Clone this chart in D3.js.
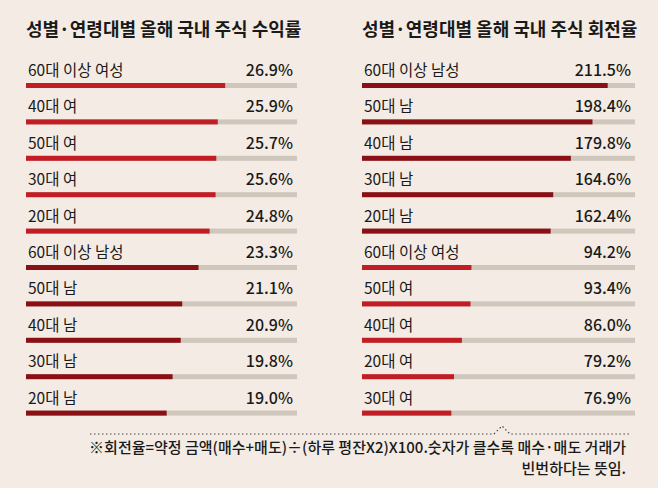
<!DOCTYPE html><html><head><meta charset="utf-8"><script src="https://cdn.jsdelivr.net/npm/d3@7"></script>
<style>body{margin:0;background:#f4ece4;}text{font-family:"Noto Sans CJK KR",sans-serif;}</style></head><body><svg id="c" width="658" height="488"></svg><script>
const leftTitle="성별·연령대별 올해 국내 주식 수익률";
const leftCats=["60대 이상 여성","40대 여","50대 여","30대 여","20대 여","60대 이상 남성","50대 남","40대 남","30대 남","20대 남"];
const leftVals=[26.9,25.9,25.7,25.6,24.8,23.3,21.1,20.9,19.8,19.0];
const leftSex=["f","f","f","f","f","m","m","m","m","m"];
const rightTitle="성별·연령대별 올해 국내 주식 회전율";
const rightCats=["60대 이상 남성","50대 남","40대 남","30대 남","20대 남","60대 이상 여성","50대 여","40대 여","20대 여","30대 여"];
const rightVals=[211.5,198.4,179.8,164.6,162.4,94.2,93.4,86.0,79.2,76.9];
const rightSex=["m","m","m","m","m","f","f","f","f","f"];
const note=["※회전율=약정 금액(매수+매도)÷(하루 평잔X2)X100.숫자가 클수록 매수·매도 거래가","빈번하다는 뜻임."];
const svg=d3.select("#c");
svg.append("rect").attr("width",658).attr("height",488).attr("fill","#f4ece4");
const col={f:"#c21d24",m:"#8a1016"};
const y=d3.scaleBand().domain(d3.range(10)).range([55,419]);
function panel(x0,x1,max,title,cats,vals,sex){
  const x=d3.scaleLinear().domain([0,max]).range([x0,x1]);
  svg.append("text").attr("x",x0).attr("y",36).attr("font-size",18).attr("font-weight",700).attr("fill","#1a1a1a").text(title);
  const g=svg.append("g");
  cats.forEach((c,i)=>{
    const yy=y(i);
    g.append("text").attr("x",x0+2).attr("y",yy+21).attr("font-size",15.5).attr("fill","#1a1a1a").text(c);
    g.append("text").attr("x",x1-4).attr("y",yy+21).attr("text-anchor","end").attr("font-size",16).attr("font-weight",500).attr("fill","#1a1a1a").text(vals[i].toFixed(1)+"%");
    g.append("rect").attr("x",x0).attr("y",yy+28).attr("width",x1-x0).attr("height",5).attr("fill","#cfc6bc");
    g.append("rect").attr("x",x0).attr("y",yy+28).attr("width",x(vals[i])-x0).attr("height",5).attr("fill",col[sex[i]]);
  });
}
panel(26,297,36.6,leftTitle,leftCats,leftVals,leftSex);
panel(362,635,235,rightTitle,rightCats,rightVals,rightSex);
svg.append("path").attr("d","M90,434 L494,434 L502,426 L510,434 L630,434").attr("fill","none").attr("stroke","#444").attr("stroke-width",1.2).attr("stroke-dasharray","1.5,2.5");
note.forEach((t,i)=>svg.append("text").attr("x",626).attr("y",453+i*21).attr("text-anchor","end").attr("font-size",15).attr("font-weight",500).attr("fill","#1a1a1a").text(t));
</script></body></html>
